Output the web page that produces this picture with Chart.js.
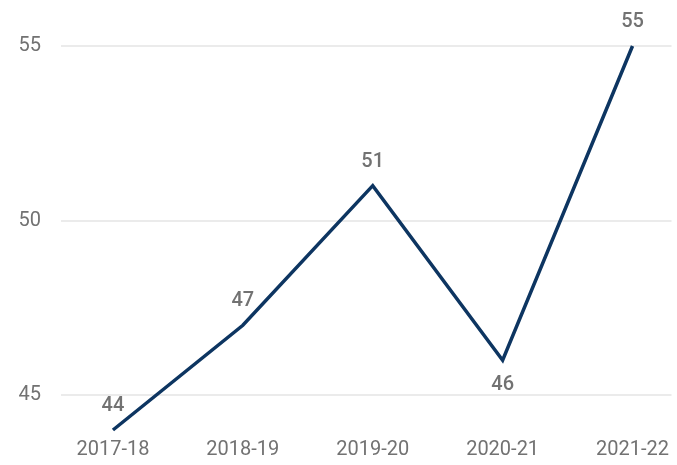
<!DOCTYPE html>
<html>
<head>
<meta charset="utf-8">
<script src="https://cdn.jsdelivr.net/npm/chart.js@4/dist/chart.umd.min.js"></script>
<style>
  html, body { margin: 0; padding: 0; background: #fff; }
  #wrap { width: 677px; height: 465px; }
</style>
</head>
<body>
<div id="wrap"><canvas id="chart"></canvas></div>
<script>
// data
var years = ['2017-18', '2018-19', '2019-20', '2020-21', '2021-22'];
var values = [44, 47, 51, 46, 55];
var labelBelow = [false, false, false, true, false];
var yTicks = [45, 50, 55];

var textGrey = '#727272';
var fontFam = 'Roboto, "Noto Sans", sans-serif';

// little plugin for the value labels (no datalabels plugin here)
var valueLabels = {
    id: 'valueLabels',
    afterDatasetsDraw: function (chart) {
        var ctx = chart.ctx;
        var meta = chart.getDatasetMeta(0);
        ctx.save();
        ctx.font = '500 20px ' + fontFam;
        ctx.fillStyle = textGrey;
        ctx.textAlign = 'center';
        ctx.textBaseline = 'middle';
        meta.data.forEach(function (pt, i) {
            var dy = labelBelow[i] ? 25 : -24;
            ctx.fillText(String(values[i]), pt.x, pt.y + dy);
        });
        ctx.restore();
    }
};

new Chart(document.getElementById('chart').getContext('2d'), {
    type: 'line',
    data: {
        datasets: [{
            data: values.map(function (v, i) { return { x: i, y: v }; }),
            borderColor: '#0d3561',
            borderWidth: 3.5,
            pointRadius: 0,
            tension: 0,
            clip: false
        }]
    },
    options: {
        responsive: true,
        maintainAspectRatio: false,
        animation: false,
        layout: { padding: { top: 46, right: 0, left: 0, bottom: 0 } },
        plugins: {
            legend: { display: false },
            tooltip: { enabled: false }
        },
        scales: {
            x: {
                type: 'linear',
                min: -0.4,
                max: 4.3,
                afterBuildTicks: function (s) {
                    s.ticks = years.map(function (y, i) { return { value: i }; });
                },
                afterFit: function (s) { s.height = 35; },
                grid: { display: false, drawTicks: false },
                border: { display: false },
                ticks: {
                    callback: function (v) { return years[v]; },
                    color: textGrey,
                    font: { family: fontFam, size: 20 },
                    padding: 8,
                    maxRotation: 0,
                    autoSkip: false
                }
            },
            y: {
                min: 44,
                max: 55,
                afterBuildTicks: function (s) {
                    s.ticks = yTicks.map(function (v) { return { value: v }; });
                },
                afterFit: function (s) { s.width = 61; },
                grid: { color: '#ebebeb', lineWidth: 2, drawTicks: false },
                border: { display: false },
                ticks: {
                    color: textGrey,
                    font: { family: fontFam, size: 20 },
                    padding: 20
                }
            }
        }
    },
    plugins: [valueLabels]
});
</script>
</body>
</html>
